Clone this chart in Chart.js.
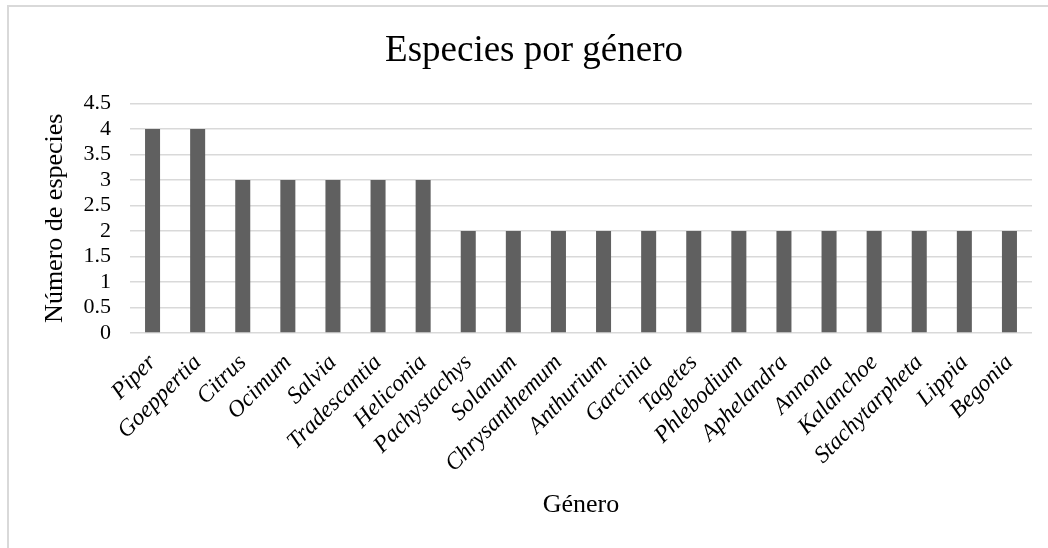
<!DOCTYPE html>
<html>
<head>
<meta charset="utf-8">
<script src="https://cdn.jsdelivr.net/npm/chart.js@4"></script>
<style>
  html, body { margin: 0; padding: 0; background: #fff; overflow: hidden; }
  #frame {
    position: absolute; left: 7px; top: 5px; width: 1100px; height: 600px;
    border: 2px solid #d9d9d9; box-sizing: border-box;
  }
  #wrap { position: absolute; left: 0; top: 0; width: 1048px; height: 548px; }
</style>
</head>
<body>
<div id="frame"></div>
<div id="wrap"><canvas id="chart" width="1048" height="548"></canvas></div>
<script>
// genera y número de especies
var generos = ["Piper", "Goeppertia", "Citrus", "Ocimum", "Salvia", "Tradescantia",
  "Heliconia", "Pachystachys", "Solanum", "Chrysanthemum", "Anthurium", "Garcinia",
  "Tagetes", "Phlebodium", "Aphelandra", "Annona", "Kalanchoe", "Stachytarpheta",
  "Lippia", "Begonia"];
var especies = [4, 4, 3, 3, 3, 3, 3, 2, 2, 2, 2, 2, 2, 2, 2, 2, 2, 2, 2, 2];

// marcas del eje y
var yTicks = [0, 0.5, 1, 1.5, 2, 2.5, 3, 3.5, 4, 4.5];

var serif = "'Liberation Serif', 'Times New Roman', serif";

var ctx = document.getElementById("chart").getContext("2d");
var chart = new Chart(ctx, {
  type: "bar",
  data: {
    labels: generos,
    datasets: [{
      label: "Especies",
      data: especies,
      backgroundColor: "#606060",
      borderWidth: 0,
      barPercentage: 0.333,
      categoryPercentage: 1.0
    }]
  },
  options: {
    responsive: false,
    animation: false,
    devicePixelRatio: 1,
    layout: { padding: { left: 36, right: 16, top: 0, bottom: 0 } },
    plugins: {
      legend: { display: false },
      tooltip: { enabled: false },
      title: {
        display: true,
        text: "Especies por género",
        color: "#000",
        font: { family: serif, size: 37, weight: "normal" },
        padding: { top: 29, bottom: 30 }
      }
    },
    scales: {
      x: {
        grid: { display: false, drawTicks: false },
        border: { display: false },
        ticks: {
          color: "#000",
          font: { family: serif, size: 23.5, style: "italic" },
          minRotation: 45,
          maxRotation: 45,
          padding: 16,
          autoSkip: false
        },
        title: {
          display: true,
          text: "Género",
          color: "#000",
          font: { family: serif, size: 26 },
          padding: { top: 0, bottom: 27 }
        },
        afterFit: function (scale) { scale.height = 215; }
      },
      y: {
        min: yTicks[0],
        max: yTicks[yTicks.length - 1],
        grid: { color: "#d9d9d9", lineWidth: 1.5, drawTicks: false },
        border: { display: false },
        afterBuildTicks: function (scale) {
          scale.ticks = yTicks.map(function (v) { return { value: v }; });
        },
        ticks: {
          autoSkip: false,
          color: "#000",
          font: { family: serif, size: 22 },
          padding: 19,
          callback: function (v) { return String(v); }
        },
        title: {
          display: true,
          text: "Número de especies",
          color: "#000",
          font: { family: serif, size: 26 },
          padding: { top: 4, bottom: 0 }
        },
        afterFit: function (scale) { scale.width = 94; }
      }
    }
  }
});
</script>
</body>
</html>
